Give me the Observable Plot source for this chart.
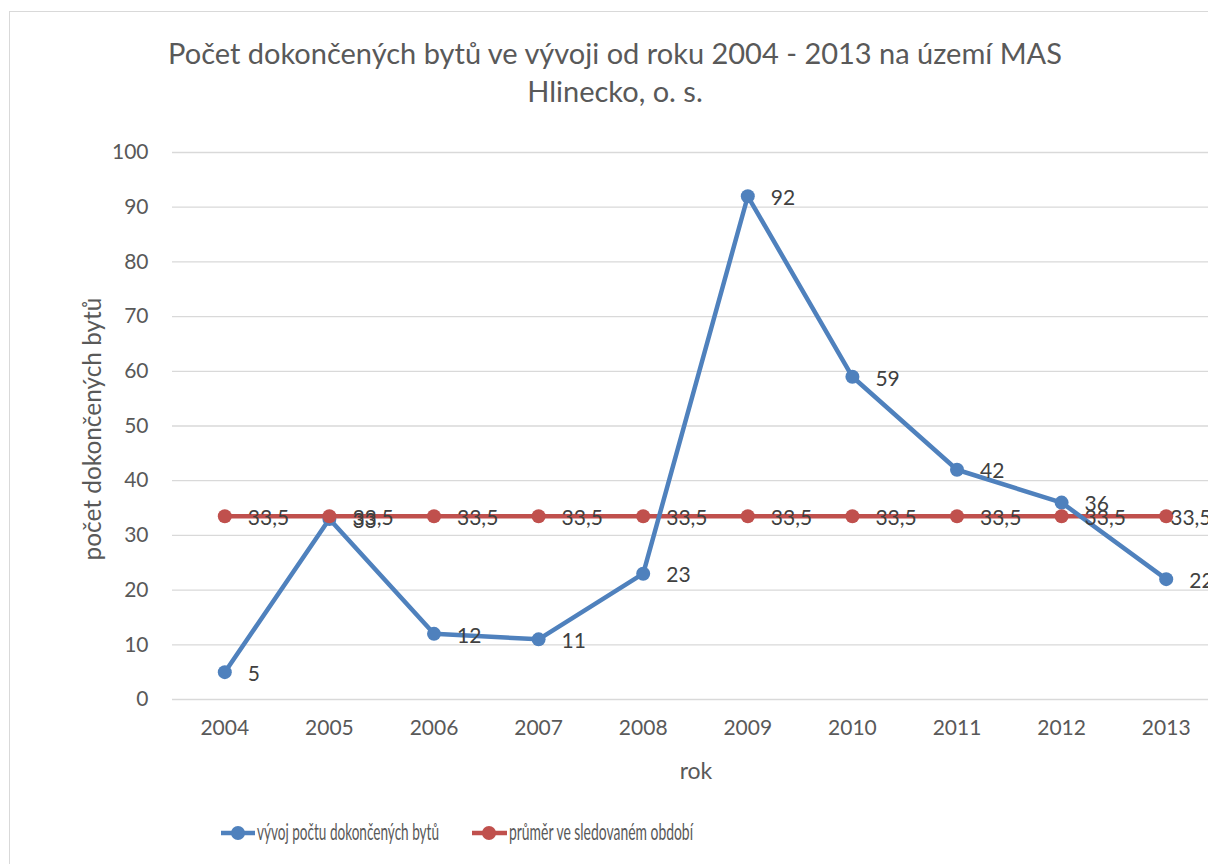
<!DOCTYPE html>
<html>
<head>
<meta charset="utf-8">
<script src="https://cdn.jsdelivr.net/npm/d3@7"></script>
<script src="https://cdn.jsdelivr.net/npm/@observablehq/plot@0.6"></script>
<style>
  html, body { margin: 0; padding: 0; background: #fff; overflow: hidden; }
  #wrap { position: relative; width: 1208px; height: 864px; overflow: hidden; font-family: Lato, "Open Sans", sans-serif; }
  #frame { position: absolute; left: 9px; top: 11px; width: 1300px; height: 900px; border-left: 1.5px solid #d9d9d9; border-top: 1.5px solid #d9d9d9; }
  #chart { position: absolute; left: 0; top: 0; width: 1230px; }
  #chart svg { max-width: none !important; }
  .title { position: absolute; left: 0; width: 1230px; text-align: center; font-size: 29px; color: #595959; line-height: 38px; top: 34px; }
  .ylab { position: absolute; left: 91px; top: 429px; transform: translate(-50%, -50%) rotate(-90deg); font-size: 24.4px; color: #595959; white-space: nowrap; }
  .xlab { position: absolute; left: 696px; top: 770px; transform: translate(-50%, -50%); font-size: 23px; color: #595959; }
  #legend { position: absolute; left: 0; top: 0; }
</style>
</head>
<body>
<div id="wrap">
  <div id="frame"></div>
  <div id="chart"></div>
  <div class="title">Počet dokončených bytů ve vývoji od roku 2004 - 2013 na území MAS<br>Hlinecko, o. s.</div>
  <div class="ylab">počet dokončených bytů</div>
  <div class="xlab">rok</div>
  <svg id="legend" width="1208" height="864" style="pointer-events:none">
    <line x1="221" y1="833" x2="255" y2="833" stroke="#4f81bd" stroke-width="4.5"/>
    <circle cx="238" cy="833" r="7" fill="#4f81bd"/>
    <text x="257" y="840" font-size="23" fill="#595959" font-family="Lato, 'Open Sans', sans-serif" textLength="182" lengthAdjust="spacingAndGlyphs">vývoj počtu dokončených bytů</text>
    <line x1="472" y1="833" x2="507" y2="833" stroke="#c0504d" stroke-width="4.5"/>
    <circle cx="489" cy="833" r="7" fill="#c0504d"/>
    <text x="509" y="840" font-size="23" fill="#595959" font-family="Lato, 'Open Sans', sans-serif" textLength="184" lengthAdjust="spacingAndGlyphs">průměr ve sledovaném období</text>
  </svg>
</div>
<script>
const years = ["2004","2005","2006","2007","2008","2009","2010","2011","2012","2013"];
const completed = [5, 33, 12, 11, 23, 92, 59, 42, 36, 22];
const average = [33.5, 33.5, 33.5, 33.5, 33.5, 33.5, 33.5, 33.5, 33.5, 33.5];
const yTicks = [0, 10, 20, 30, 40, 50, 60, 70, 80, 90, 100];

const blue = "#4f81bd", red = "#c0504d";
const series1 = years.map((y, i) => ({year: y, value: completed[i]}));
const series2 = years.map((y, i) => ({year: y, value: average[i]}));
const fmt = v => String(v).replace(".", ",");
const last = years.length - 1;

const chart = Plot.plot({
  width: 1230,
  height: 864,
  marginLeft: 172,
  marginRight: 12,
  marginTop: 152,
  marginBottom: 165,
  style: {fontFamily: "Lato, 'Open Sans', sans-serif", background: "transparent", maxWidth: "none"},
  x: {type: "point", domain: years, padding: 0.5, round: false},
  y: {domain: [0, 100]},
  marks: [
    Plot.ruleY(yTicks, {stroke: "#d9d9d9", strokeWidth: 1.3}),
    Plot.axisX({tickSize: 0, tickPadding: 21, fontSize: 21, color: "#595959", label: null}),
    Plot.axisY({ticks: yTicks, tickSize: 0, tickPadding: 24, fontSize: 21, color: "#595959", label: null}),
    Plot.line(series2, {x: "year", y: "value", stroke: red, strokeWidth: 4.5}),
    Plot.line(series1, {x: "year", y: "value", stroke: blue, strokeWidth: 4.5}),
    Plot.dot(series1, {x: "year", y: "value", r: 7, fill: blue}),
    Plot.dot(series2, {x: "year", y: "value", r: 7, fill: red}),
    Plot.text(series1, {x: "year", y: "value", text: d => fmt(d.value), dx: 23, dy: 2, textAnchor: "start", fontSize: 21, fill: "#404040"}),
    Plot.text(series2.slice(0, last), {x: "year", y: "value", text: d => fmt(d.value), dx: 23, dy: 2, textAnchor: "start", fontSize: 21, fill: "#404040"}),
    Plot.text(series2.slice(last), {x: "year", y: "value", text: d => fmt(d.value), dx: 4, dy: 2, textAnchor: "start", fontSize: 21, fill: "#404040"})
  ]
});
document.getElementById("chart").appendChild(chart);
</script>
</body>
</html>
